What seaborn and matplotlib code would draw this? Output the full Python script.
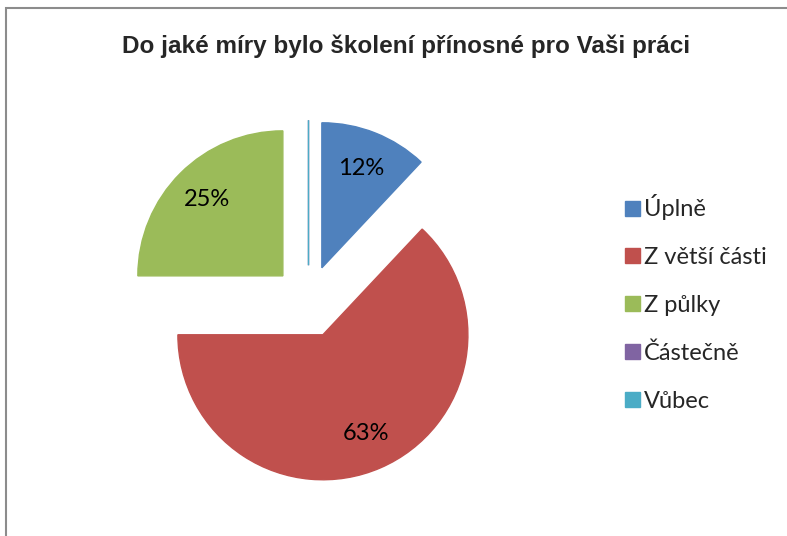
import math
import matplotlib
matplotlib.use("Agg")
import matplotlib.pyplot as plt
from matplotlib.patches import Rectangle, Patch
import seaborn as sns

sns.set_theme(style="white")
plt.rcParams['font.family'] = ['Lato', 'DejaVu Sans']

title = "Do jaké míry bylo školení přínosné pro Vaši práci"
categories = ["Úplně", "Z větší části", "Z půlky", "Částečně", "Vůbec"]
shares = [12, 63, 25, 0, 0]
colors = ["#4F81BD", "#C0504D", "#9BBB59", "#8064A2", "#4BACC6"]

W, H = 787, 536
fig = plt.figure(figsize=(W / 100, H / 100), dpi=100)

# pie area: centre and radius in pixels
cx, cy, r = 308.5, 301.5, 145
half = 1.25 * r
ax = fig.add_axes([(cx - half) / W, (H - cy - half) / H, 2 * half / W, 2 * half / H])

labels_pct = [f"{v}%" if v > 0 else "" for v in shares]
wedges, _ = ax.pie(
    shares, colors=colors, startangle=90, counterclock=False,
    explode=[0.25] * len(shares), radius=1.0,
)
for w in wedges:
    w.set_edgecolor(w.get_facecolor())
    w.set_linewidth(1.0)

# percentage labels placed along each wedge's bisector
total = sum(shares)
theta = 90.0
for v, lab in zip(shares, labels_pct):
    span = 360.0 * v / total
    mid = math.radians(theta - span / 2)
    theta -= span
    if not lab:
        continue
    ox, oy = 0.25 * math.cos(mid), 0.25 * math.sin(mid)
    ax.text(ox + 0.74 * math.cos(mid), oy + 0.74 * math.sin(mid), lab,
            ha="center", va="center", fontsize=17, color="black")

ax.set_xlim(-1.25, 1.25)
ax.set_ylim(-1.25, 1.25)
ax.set_aspect("equal")
ax.axis("off")

fig.text(406 / W, 1 - 46 / H, title, ha="center", va="center",
         fontsize=17.5, fontweight="bold", family=["Liberation Sans", "DejaVu Sans"])

handles = [Patch(facecolor=c, edgecolor=c) for c in colors]
fig.legend(handles, categories, loc="upper left",
           bbox_to_anchor=(616 / W, 1 - 185 / H), frameon=False,
           fontsize=17, handlelength=0.6, handleheight=0.6,
           handletextpad=0.18, labelspacing=1.13, borderaxespad=0)

fig.add_artist(Rectangle((5.5 / W, -0.1), 1.2, 1.1 - 8 / H,
                         transform=fig.transFigure, fill=False,
                         edgecolor="#8c8c8c", linewidth=1.5))

fig.savefig("out.png", dpi=100)
